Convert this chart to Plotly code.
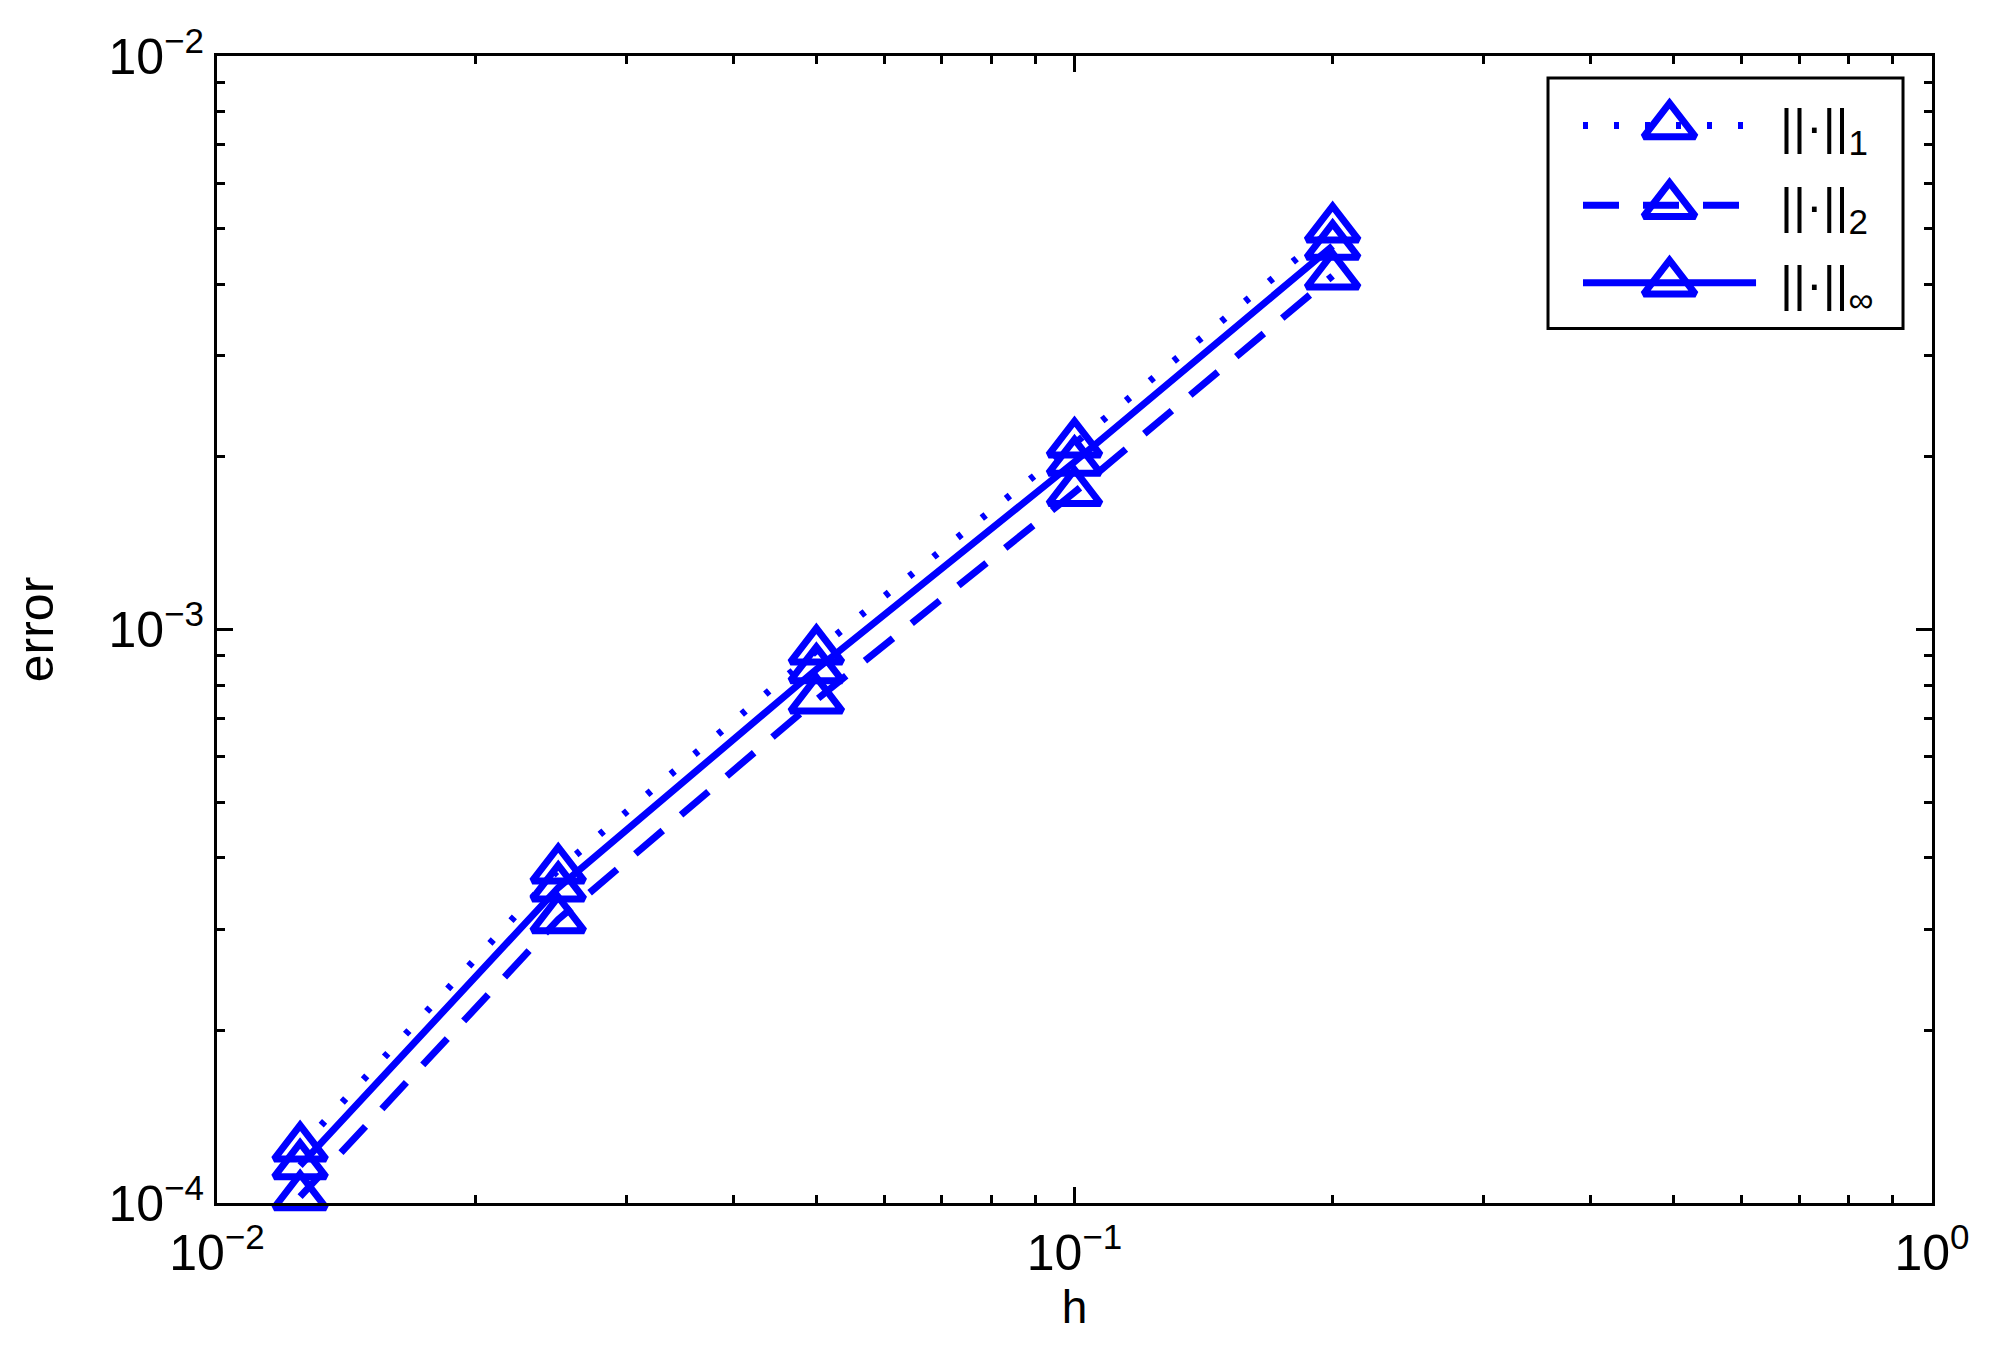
import plotly.graph_objects as go

# grid spacing h and error norms
h = [0.0125, 0.025, 0.05, 0.1, 0.2]
err_l1 = [1.248e-4, 3.812e-4, 9.18e-4, 2.109e-3, 5.00e-3]
err_l2 = [1.026e-4, 3.122e-4, 7.54e-4, 1.735e-3, 4.137e-3]
err_inf = [1.162e-4, 3.546e-4, 8.52e-4, 1.960e-3, 4.663e-3]

names = ["||·||<sub>1</sub>", "||·||<sub>2</sub>", "||·||<sub>∞</sub>"]
dashes = ["5px,26px", "36px,24px", "solid"]

x_tickvals = [0.01, 0.1, 1]
x_ticktext = ["10<sup>−2</sup>", "10<sup>−1</sup>", "10<sup>0</sup>"]
y_tickvals = [1e-4, 1e-3, 1e-2]
y_ticktext = ["10<sup>−4</sup>", "10<sup>−3</sup>", "10<sup>−2</sup>"]

BLUE = "#0000FF"
FONT = "Liberation Sans, Arial, sans-serif"
MARKER = dict(symbol="triangle-up-open", size=45, color=BLUE, line=dict(width=7, color=BLUE))
LINE_W = 7

# hand-drawn legend box, in plot-area fractions (matlab style legend with big markers)
LEG_BOX = (0.7761, 0.7624, 0.9831, 0.9809)
LEG_LINE_X = (0.7965, 0.8974)
LEG_ROWS_Y = [0.9393, 0.8699, 0.8023]
LEG_TEXT_X = 0.9102

fig = go.Figure()
for name, ys, dash in zip(names, [err_l1, err_l2, err_inf], dashes):
    fig.add_trace(go.Scatter(
        x=h, y=ys, name=name, mode="lines+markers", showlegend=False, cliponaxis=False,
        line=dict(color=BLUE, width=LINE_W, dash=dash), marker=MARKER,
    ))

# legend symbols
for name, dash, ry in zip(names, dashes, LEG_ROWS_Y):
    fig.add_shape(type="line", xref="paper", yref="paper",
                  x0=LEG_LINE_X[0], x1=LEG_LINE_X[1], y0=ry, y1=ry,
                  line=dict(color=BLUE, width=LINE_W, dash=dash), layer="below")
    fig.add_annotation(x=LEG_TEXT_X, y=ry - 0.004, xref="paper", yref="paper",
                       text=name, showarrow=False, xanchor="left", yanchor="middle",
                       font=dict(family=FONT, size=50, color="black"))
fig.add_trace(go.Scatter(
    x=[sum(LEG_LINE_X) / 2] * 3, y=LEG_ROWS_Y, mode="markers", xaxis="x2", yaxis="y2",
    showlegend=False, hoverinfo="skip", marker=MARKER,
))
fig.add_shape(type="rect", xref="paper", yref="paper",
              x0=LEG_BOX[0], y0=LEG_BOX[1], x1=LEG_BOX[2], y1=LEG_BOX[3],
              line=dict(color="black", width=3), fillcolor="rgba(0,0,0,0)", layer="above")

axis_common = dict(
    type="log", showgrid=False, zeroline=False,
    showline=True, linecolor="black", linewidth=3, mirror="ticks",
    ticks="inside", ticklen=16, tickwidth=3, tickcolor="black",
    tickmode="array",
    minor=dict(ticks="inside", ticklen=8, tickwidth=3, tickcolor="black", dtick="D1", showgrid=False),
    tickfont=dict(family=FONT, size=50, color="black"),
)

# body margin of the html page is 8px, so margins are shifted by that amount
fig.update_layout(
    width=1998, height=1355,
    paper_bgcolor="white", plot_bgcolor="white",
    margin=dict(l=209, r=74, t=42, b=160),
    font=dict(family=FONT, size=44, color="black"),
    xaxis=dict(axis_common, range=[-2, 0], tickvals=x_tickvals, ticktext=x_ticktext,
               ticklabelstandoff=4,
               title=dict(text="h", font=dict(size=46), standoff=6)),
    yaxis=dict(axis_common, range=[-4, -2], tickvals=y_tickvals, ticktext=y_ticktext,
               ticklabelstandoff=0,
               title=dict(text="error", font=dict(size=50), standoff=44)),
    xaxis2=dict(overlaying="x", range=[0, 1], visible=False, fixedrange=True),
    yaxis2=dict(overlaying="y", range=[0, 1], visible=False, fixedrange=True),
    showlegend=False,
)

fig.write_html("out.html")
